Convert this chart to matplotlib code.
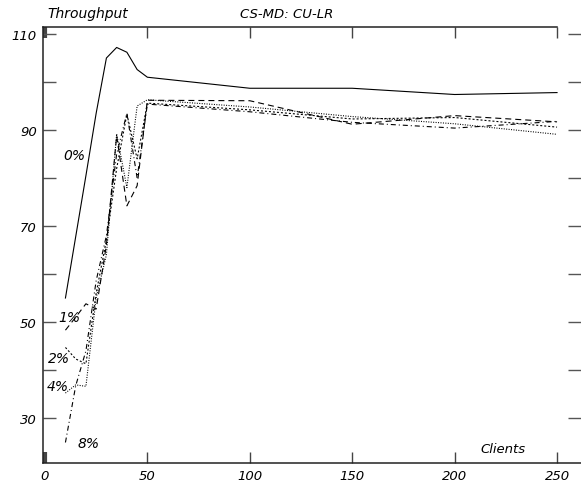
import matplotlib
matplotlib.use("Agg")
import matplotlib.pyplot as plt

# ---- data ----
x0 = [10, 20, 25, 30, 35, 40, 45, 50, 100, 150, 200, 250]
y0 = [55.0, 80.5, 93.5, 105.0, 107.2, 106.2, 102.6, 101.0, 98.7, 98.7, 97.4, 97.8]

xs = [10, 15, 20, 25, 30, 35, 40, 45, 50, 100, 150, 200, 250]
y1 = [48.3, 51.0, 53.8, 52.7, 66.0, 88.8, 74.2, 78.4, 96.2, 96.1, 91.2, 93.0, 91.7]
y2 = [44.7, 42.3, 41.3, 56.0, 67.0, 82.0, 93.3, 84.0, 95.6, 94.2, 92.3, 92.6, 90.6]
y4 = [35.2, 36.9, 36.6, 55.0, 64.0, 89.2, 78.0, 95.0, 96.3, 94.8, 92.8, 91.3, 89.1]
y8 = [24.9, 36.7, 44.0, 58.6, 68.0, 85.0, 93.5, 80.0, 95.4, 93.8, 91.6, 90.4, 91.8]

labels = ["0%", "1%", "2%", "4%", "8%"]
label_pos = [(8.8, 84.0), (6.5, 50.3), (1.6, 41.7), (0.8, 35.8), (16.1, 24.0)]

xticks = [0, 50, 100, 150, 200, 250]
yticks_major = [110, 90, 70, 50, 30]
yticks_all = [110, 100, 90, 80, 70, 60, 50, 40, 30]

title_left = "Throughput"
title_mid = "CS-MD: CU-LR"
xlabel = "Clients"

# ---- figure ----
fig = plt.figure(figsize=(5.81, 4.85), dpi=100)
ax = fig.add_axes([42.5 / 581, 21 / 485, (581 - 42.5) / 581, (464 - 28.3) / 485])
ax.set_xlim(-1.2, 261.7)
ax.set_ylim(20.625, 111.4)

fam = ["DejaVu Sans"]
lw = 0.8
ax.plot(x0, y0, color="black", lw=lw, ls="-")
ax.plot(xs, y1, color="black", lw=lw, ls=(0, (5.4, 3.6)))
ax.plot(xs, y2, color="black", lw=lw, ls=(0, (1.8, 1.8)))
ax.plot(xs, y4, color="black", lw=lw, ls=(0, (0.9, 1.3)))
ax.plot(xs, y8, color="black", lw=lw, ls=(0, (4.5, 2.7, 0.9, 2.7)))

for lab, (lx, ly) in zip(labels, label_pos):
    ax.text(lx, ly, lab, fontsize=10, style="italic", family=fam,
            ha="left", va="baseline")

ax.text(212.4, 23.0, xlabel, fontsize=9.5, style="italic", family=fam,
        ha="left", va="baseline")

fig.text(47 / 581, 1 - 18 / 485, title_left, fontsize=10, style="italic",
         family=fam, ha="left", va="baseline")
fig.text(240 / 581, 1 - 18 / 485, title_mid, fontsize=9.5, style="italic",
         family=fam, ha="left", va="baseline")

# spines
for s in ["left", "bottom", "top"]:
    ax.spines[s].set_linewidth(1.1)
    ax.spines[s].set_color("#222222")
ax.spines["right"].set_visible(False)
ax.spines["top"].set_bounds(-1.2, 250)

# ticks
ax.set_xticks(xticks)
ax.set_xticklabels([str(t) for t in xticks])
ax.set_yticks(yticks_all)
ax.set_yticklabels([str(t) if t in yticks_major else "" for t in yticks_all])
ax.tick_params(axis="x", which="both", direction="in", length=8, width=1.0,
               color="#444444", top=True, bottom=True, pad=4, labelsize=9.5)
ax.tick_params(axis="y", which="both", direction="in", length=9.5, width=1.0,
               color="#555555", left=True, right=True, pad=4, labelsize=9.5)
for lab in ax.get_xticklabels() + ax.get_yticklabels():
    lab.set_fontstyle("italic")
    lab.set_family(fam)

# thick mark at x=0 on bottom and top
xt = ax.xaxis.get_major_ticks()[0]
xt.tick1line.set_markeredgewidth(3.0)
xt.tick2line.set_markeredgewidth(3.0)
xt.tick1line.set_color("black")
xt.tick2line.set_color("black")

fig.savefig("out.png", dpi=100)
